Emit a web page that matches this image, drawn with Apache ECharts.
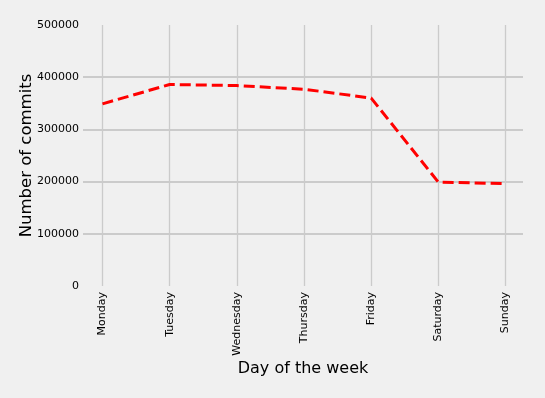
<!DOCTYPE html>
<html>
<head>
<meta charset="utf-8">
<script src="https://cdn.jsdelivr.net/npm/echarts@6/dist/echarts.min.js"></script>
<style>
html,body{margin:0;padding:0;background:#f0f0f0;}
#chart{width:545px;height:398px;}
</style>
</head>
<body>
<div id="chart"></div>
<script>
const days = ['Monday','Tuesday','Wednesday','Thursday','Friday','Saturday','Sunday'];
const commits = [349000, 386000, 384000, 377000, 360000, 199000, 196000];
const yTicks = [0, 100000, 200000, 300000, 400000, 500000];

const chart = echarts.init(document.getElementById('chart'), null, {renderer:'canvas'});
const font = 'DejaVu Sans';
const idx = days.map((d, i) => i);
chart.setOption({
  backgroundColor: '#f0f0f0',
  animation: false,
  grid: {left: 83, right: 22, top: 25, bottom: 112},
  xAxis: {
    type: 'value',
    min: -0.29, max: 6.26,
    axisLine: {show: false},
    axisTick: {show: false, customValues: idx},
    axisLabel: {
      customValues: idx,
      rotate: 90, margin: 6,
      fontFamily: font, fontSize: 11, color: '#000',
      formatter: v => days[Math.round(v)]
    },
    splitLine: {show: true, lineStyle: {color: '#cbcbcb', width: 1.3}},
    name: 'Day of the week', nameLocation: 'middle', nameGap: 75, nameMoveOverlap: false,
    nameTextStyle: {fontFamily: font, fontSize: 16, color: '#000'}
  },
  yAxis: {
    type: 'value', min: yTicks[0], max: yTicks[yTicks.length - 1], interval: yTicks[1] - yTicks[0],
    axisLine: {show: false}, axisTick: {show: false},
    axisLabel: {fontFamily: font, fontSize: 11, color: '#000', margin: 4, formatter: v => String(v)},
    splitLine: {show: true, showMinLine: false, showMaxLine: false, lineStyle: {color: '#cbcbcb', width: 2}},
    name: 'Number of commits', nameLocation: 'middle', nameGap: 48, nameMoveOverlap: false,
    nameTextStyle: {fontFamily: font, fontSize: 16.5, color: '#000'}
  },
  series: [{
    type: 'line',
    data: commits.map((v, i) => [i, v]),
    symbol: 'none',
    lineStyle: {color: '#ff0000', width: 3, type: [11, 5]}
  }]
});
</script>
</body>
</html>
